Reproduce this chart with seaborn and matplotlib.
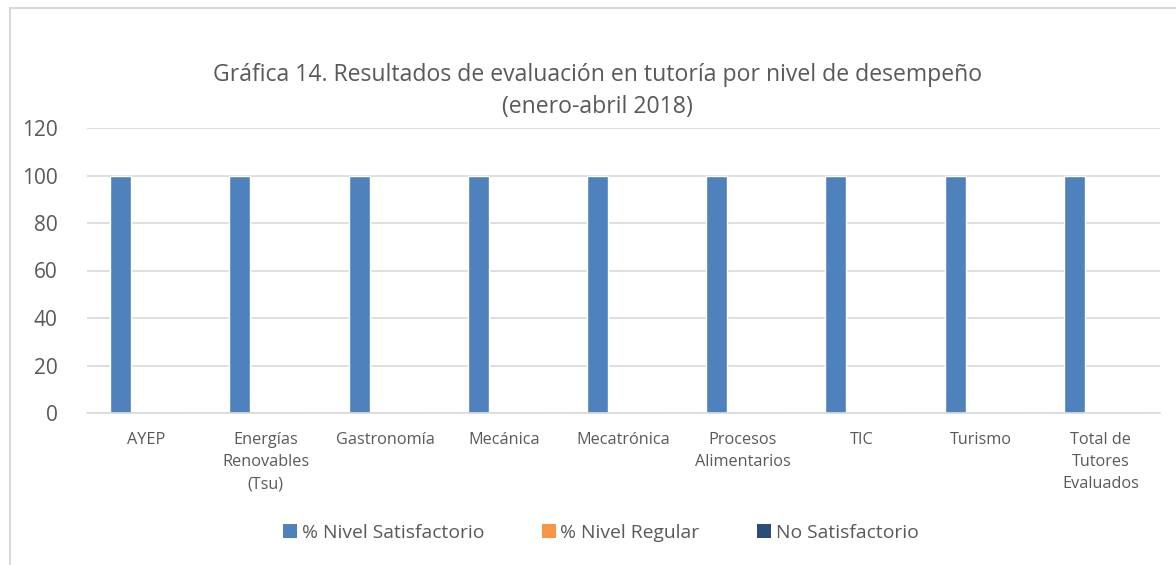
import numpy as np
import pandas as pd
import matplotlib as mpl
import matplotlib.pyplot as plt
import seaborn as sns
from matplotlib.patches import Rectangle, Patch

# =============================================
# 1. Data
# =============================================
categorias = ['AYEP', 'Energías\nRenovables\n(Tsu)', 'Gastronomía', 'Mecánica',
              'Mecatrónica', 'Procesos\nAlimentarios', 'TIC', 'Turismo',
              'Total de\nTutores\nEvaluados']
series = ['% Nivel Satisfactorio', '% Nivel Regular', 'No Satisfactorio']
satisfactorio = [100, 100, 100, 100, 100, 100, 100, 100, 100]
regular = [0, 0, 0, 0, 0, 0, 0, 0, 0]
no_satisfactorio = [0, 0, 0, 0, 0, 0, 0, 0, 0]
colores = ['#4F81BD', '#F79646', '#2C4D75']

df = pd.DataFrame({
    'Carrera': categorias * 3,
    'Serie': np.repeat(series, len(categorias)),
    'Valor': satisfactorio + regular + no_satisfactorio,
})

# =============================================
# 2. Plotting
# =============================================
sns.set_style("white")
plt.rcParams['font.family'] = ['Open Sans', 'DejaVu Sans']
gris = '#595959'

fig = plt.figure(figsize=(11.76, 5.65), dpi=100)
ax = fig.add_axes([87 / 1176, 1 - 413 / 565, (1160 - 87) / 1176, (413 - 128) / 565])

sns.barplot(
    data=df, x='Carrera', y='Valor', hue='Serie',
    palette=colores, width=0.654, gap=0.19, saturation=1,
    ax=ax, legend=False,
)

ax.set_ylim(0, 120)
ax.set_yticks(range(0, 121, 20))
ax.set_xlim(-0.5, len(categorias) - 0.5)
ax.yaxis.grid(True, color='#D9D9D9', linewidth=1.2)
ax.set_axisbelow(True)
ax.set(xlabel='', ylabel='')
sns.despine(ax=ax, left=True, top=True, right=True)
ax.spines['bottom'].set_color('#D9D9D9')
ax.spines['bottom'].set_linewidth(1.2)
ax.tick_params(axis='both', length=0)
ax.tick_params(axis='y', labelsize=15, labelcolor=gris, pad=21)
ax.tick_params(axis='x', labelsize=11.7, labelcolor=gris, pad=14)
for lbl in ax.get_xticklabels():
    lbl.set_verticalalignment('top')
    lbl.set_linespacing(1.5)

fig.text(0.508, 1 - 75 / 565, 'Gráfica 14. Resultados de evaluación en tutoría por nivel de desempeño',
         ha='center', va='center', fontsize=16.6, color=gris)
fig.text(0.508, 1 - 107 / 565, '(enero-abril 2018)',
         ha='center', va='center', fontsize=16.6, color=gris)

handles = [Patch(facecolor=c, edgecolor='none') for c in colores]
fig.legend(handles, series, loc='center', bbox_to_anchor=(0.511, 1 - 533 / 565),
           ncol=3, frameon=False, fontsize=13.9, labelcolor=gris,
           handlelength=0.7, handleheight=0.7, handletextpad=0.25, columnspacing=3.0)

# chart border
fig.patches.append(Rectangle((10 / 1176, -0.1), 1.2, 1.1 - 8 / 565,
                             transform=fig.transFigure, fill=False,
                             edgecolor='#D9D9D9', linewidth=1.5))

fig.savefig('out.png', dpi=100)
